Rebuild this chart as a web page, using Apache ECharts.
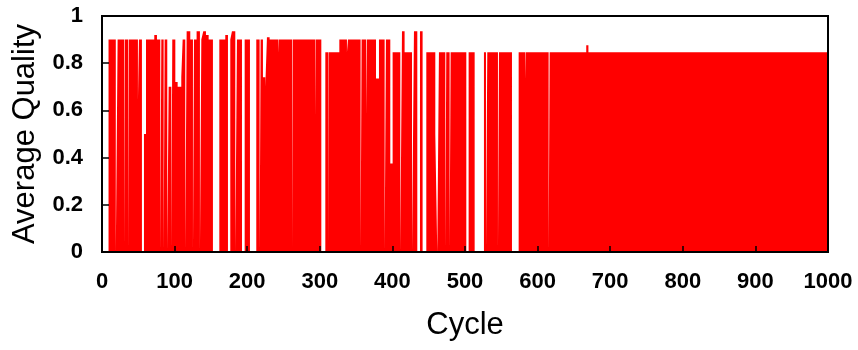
<!DOCTYPE html>
<html>
<head>
<meta charset="utf-8">
<script src="https://cdn.jsdelivr.net/npm/echarts@6/dist/echarts.min.js"></script>
<style>
  html, body { margin: 0; padding: 0; background: #fff; }
  #qualityChart { width: 858px; height: 350px; }
</style>
</head>
<body>
<div id="qualityChart"></div>
<script>
// runs of cycles: [first cycle, last cycle, average quality]
// between runs the quality sits at 0
const qualityRuns = [
  [9, 19, 0.90], [21.5, 30.3, 0.90], [31.2, 36.2, 0.90], [37.1, 49.5, 0.90],
  [49.5, 50.9, 0.64], [50.9, 55, 0.90], [57.8, 60.6, 0.50], [60.6, 72, 0.90],
  [72, 75.7, 0.92], [75.7, 80.3, 0.90], [81.7, 84.9, 0.90], [86.3, 89.9, 0.90],
  [91.8, 95.5, 0.70], [96.8, 101, 0.90], [101, 104.2, 0.72], [104.2, 109.2, 0.70],
  [109.2, 111.1, 0.74], [111.1, 114.7, 0.90], [116.6, 121.6, 0.935], [121.6, 125.3, 0.90],
  [126.7, 130.3, 0.90], [130.3, 134.9, 0.935], [136.8, 139.5, 0.90], [139.5, 143.2, 0.935],
  [143.2, 146.9, 0.92], [146.9, 152.8, 0.90],
  [161.6, 169.8, 0.90], [169.8, 173.5, 0.92], [176.7, 179, 0.90], [179, 183.6, 0.935],
  [185.9, 192.8, 0.90], [196.5, 203.8, 0.90], [212.5, 217.1, 0.90], [218.5, 221.7, 0.90],
  [221.7, 224.9, 0.74], [224.9, 227.2, 0.70], [227.2, 230.9, 0.91], [230.9, 243, 0.90],
  [243, 243.7, 0.843], [243.7, 261.7, 0.90], [262.6, 293.5, 0.90], [293.5, 294.2, 0.565],
  [294.2, 302.1, 0.90], [307.6, 312, 0.846], [312.6, 326.9, 0.846],
  [326.9, 337.4, 0.90], [337.4, 338.8, 0.846], [338.8, 356.2, 0.90], [357.6, 364, 0.90],
  [364, 365, 0.575], [365, 377.4, 0.90], [377.4, 381.5, 0.735], [381.5, 389.3, 0.90],
  [391.1, 397.1, 0.90], [397.1, 400.3, 0.375], [400.3, 410.9, 0.846], [413.2, 416.8, 0.935],
  [416.8, 427, 0.846], [429.7, 434.3, 0.935], [438, 441.6, 0.935], [446.7, 459.1, 0.846],
  [459.1, 461.8, 0.50], [464.1, 472.9, 0.846], [474.2, 478.8, 0.846], [480.2, 501.8, 0.846],
  [505, 513.3, 0.846], [526.1, 528.9, 0.846], [530.7, 545.4, 0.846], [546.8, 564.7, 0.846],
  [573.9, 583, 0.846], [583, 583.7, 0.73], [583.7, 615.2, 0.846], [616.6, 667, 0.846],
  [667, 670, 0.876], [670, 1000, 0.846]
];

const cycleRange = [0, 1000];
const qualityRange = [0, 1];

// turn the runs into the outline of the red trace
const qualityData = [];
qualityRuns.forEach(function (run, i) {
  const prev = qualityRuns[i - 1];
  const next = qualityRuns[i + 1];
  if (!prev || prev[1] !== run[0]) qualityData.push([run[0], 0]);
  qualityData.push([run[0], run[2]]);
  qualityData.push([run[1], run[2]]);
  if (!next || next[0] !== run[1]) qualityData.push([run[1], 0]);
});

const chart = echarts.init(document.getElementById('qualityChart'));

const tickFont = {
  color: '#000',
  fontFamily: '"Liberation Sans", Arial, sans-serif',
  fontWeight: 'bold',
  fontSize: 22,
};
const titleFont = {
  color: '#000',
  fontFamily: '"Liberation Sans", Arial, sans-serif',
  fontSize: 31,
};

chart.setOption({
  animation: false,
  grid: {
    left: 102, right: 30, top: 16, bottom: 98,
    outerBoundsMode: 'none',
    containLabel: false,
    show: true, borderColor: '#000', borderWidth: 2, z: 5,
  },
  xAxis: {
    type: 'value',
    z: 5,
    min: cycleRange[0], max: cycleRange[1], interval: 100,
    name: 'Cycle',
    nameLocation: 'middle',
    nameGap: 58,
    nameTextStyle: titleFont,
    axisLine: { lineStyle: { color: '#000', width: 2 } },
    axisTick: { inside: true, length: 6, lineStyle: { color: '#000', width: 1.5 } },
    axisLabel: Object.assign({
      margin: 19,
      formatter: function (v) { return String(v); },
    }, tickFont),
    splitLine: { show: false },
  },
  yAxis: {
    type: 'value',
    z: 5,
    min: qualityRange[0], max: qualityRange[1], interval: 0.2,
    name: 'Average Quality',
    nameLocation: 'middle',
    nameGap: 61,
    nameTextStyle: titleFont,
    axisLine: { lineStyle: { color: '#000', width: 2 } },
    axisTick: { inside: true, length: 7, lineStyle: { color: '#000', width: 1.5 } },
    axisLabel: Object.assign({
      margin: 19,
      formatter: function (v) { return String(+v.toFixed(1)); },
    }, tickFont),
    splitLine: { show: false },
  },
  series: [{
    type: 'line',
    data: qualityData,
    showSymbol: false,
    silent: true,
    lineStyle: { width: 0 },
    areaStyle: { color: '#ff0000', opacity: 1 },
    z: 1,
  }],
});
</script>
</body>
</html>
